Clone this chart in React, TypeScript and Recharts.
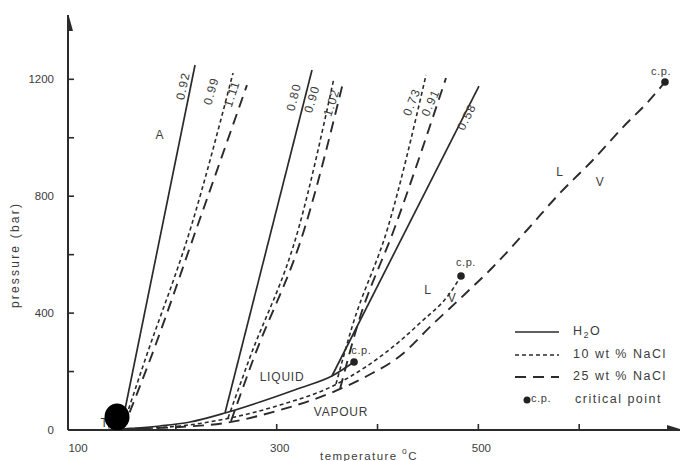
import {
  ComposedChart,
  Line,
  Scatter,
  XAxis,
  YAxis,
  Legend,
} from "recharts";

const FONT = '"Liberation Sans", Arial, Helvetica, sans-serif';
const INK = "#2b2b2b";
const TEXT = "#3c3c3c";

// axis ticks
const tempTicks = [100, 200, 300, 400, 500, 600];
const tempLabels = [100, 300, 500];
const pressTicks = [0, 200, 400, 600, 800, 1000, 1200];
const pressLabels = [0, 400, 800, 1200];

// liquid-vapour curves, T in °C, P in bar
const lvH2oT = [145.6, 184.2, 214.0, 248.7, 283.4, 323.1, 354.8, 376.7];
const lvH2oP = [3.4, 13.7, 27.4, 58.2, 95.8, 143.7, 184.8, 232.7];
const lv10T = [145.6, 204.1, 248.7, 303.3, 355.8, 389.6, 422.3, 442.1, 471.9, 482.8];
const lv10P = [3.4, 13.7, 37.6, 85.5, 150.6, 219.0, 304.5, 366.1, 468.8, 527.0];
const lv25T = [145.6, 204.1, 248.7, 303.3, 355.8, 389.6, 422.3, 455.0, 486.8, 514.5, 548.3, 581.0, 613.7, 647.4, 667.3, 685.1];
const lv25P = [3.4, 10.3, 24.0, 68.4, 130.0, 184.8, 253.2, 362.7, 465.3, 557.7, 684.3, 810.9, 923.9, 1050.5, 1118.9, 1190.8];

// isochores (density g/cm3)
const iso092T = [145.6, 219.0];
const iso092P = [3.4, 1249];
const iso099T = [146.5, 169.4, 215.0, 256.7];
const iso099P = [3.4, 239.5, 694.6, 1221.6];
const iso111T = [147.5, 174.3, 221.0, 270.5];
const iso111P = [3.4, 239.5, 694.6, 1180];

const iso080T = [248.7, 335.0];
const iso080P = [58.2, 1231.8];
const iso090T = [251.7, 272.5, 322.1, 356.8];
const iso090P = [41.0, 239.5, 694.6, 1204];
const iso102T = [254.7, 276.5, 328.1, 365.7];
const iso102P = [30.8, 239.5, 694.6, 1187];

const iso058T = [354.8, 500.6];
const iso058P = [184.8, 1177];
const iso073T = [358.8, 374.7, 410.4, 448.1];
const iso073P = [157.4, 352.4, 694.6, 1214.7];
const iso091T = [362.8, 379.6, 417.3, 467.9];
const iso091P = [140.3, 352.4, 694.6, 1204.4];

// critical points
const cpT = [376.7, 482.8, 685.1];
const cpP = [232.7, 527.0, 1190.8];

const zip = (t: number[], p: number[]) => t.map((v, i) => ({ t: v, p: p[i] }));

const STYLE: Record<string, { dash?: string; w: number }> = {
  h2o: { w: 1.7 },
  n10: { dash: "4 3", w: 1.6 },
  n25: { dash: "11 7", w: 1.9 },
};

const series = [
  { id: "lv-h2o", kind: "h2o", data: zip(lvH2oT, lvH2oP) },
  { id: "lv-10", kind: "n10", data: zip(lv10T, lv10P) },
  { id: "lv-25", kind: "n25", data: zip(lv25T, lv25P) },
  { id: "i092", kind: "h2o", data: zip(iso092T, iso092P) },
  { id: "i099", kind: "n10", data: zip(iso099T, iso099P) },
  { id: "i111", kind: "n25", data: zip(iso111T, iso111P) },
  { id: "i080", kind: "h2o", data: zip(iso080T, iso080P) },
  { id: "i090", kind: "n10", data: zip(iso090T, iso090P) },
  { id: "i102", kind: "n25", data: zip(iso102T, iso102P) },
  { id: "i058", kind: "h2o", data: zip(iso058T, iso058P) },
  { id: "i073", kind: "n10", data: zip(iso073T, iso073P) },
  { id: "i091", kind: "n25", data: zip(iso091T, iso091P) },
];

// text placed on the plot (data coords)
const notes = [
  { t: 207.0, p: 1177, text: "0.92", angle: -78 },
  { t: 235.0, p: 1160, text: "0.99", angle: -74 },
  { t: 255.5, p: 1150, text: "1.11", angle: -72 },
  { t: 317.0, p: 1139, text: "0.80", angle: -76 },
  { t: 335.0, p: 1132, text: "0.90", angle: -73 },
  { t: 354.5, p: 1120, text: "1.02", angle: -72 },
  { t: 434.0, p: 1122, text: "0.73", angle: -68 },
  { t: 452.5, p: 1120, text: "0.91", angle: -66 },
  { t: 488.5, p: 1071, text: "0.58", angle: -63 },
  { t: 184.2, p: 1009, text: "A", angle: 0 },
  { t: 305.3, p: 181, text: "LIQUID", angle: 0 },
  { t: 363.8, p: 62, text: "VAPOUR", angle: 0 },
  { t: 384.0, p: 274, text: "c.p.", angle: 0 },
  { t: 487.7, p: 575, text: "c.p.", angle: 0 },
  { t: 681.2, p: 1228, text: "c.p.", angle: 0 },
  { t: 450.1, p: 479, text: "L", angle: 0 },
  { t: 473.9, p: 452, text: "V", angle: 0 },
  { t: 581.0, p: 883, text: "L", angle: 0 },
  { t: 620.7, p: 849, text: "V", angle: 0 },
  { t: 132.0, p: 24, text: "TH", angle: 0 },
];

const blot = [{ t: 141.6, p: 44.5 }];
const yArrow = [{ t: 93, p: 1420 }];
const xArrow = [{ t: 700, p: 0 }];

function TempTick({ x, y, payload }: any) {
  const v = payload.value;
  return (
    <g>
      {v !== 100 && (
        <line x1={x} y1={y} x2={x} y2={y - 6} stroke={INK} strokeWidth={1.6} />
      )}
      {tempLabels.includes(v) && (
        <text x={x + 3} y={y + 22} textAnchor="middle" fontSize={11.5} fill={TEXT} fontFamily={FONT}>
          {v}
        </text>
      )}
    </g>
  );
}

function PressTick({ x, y, payload }: any) {
  const v = payload.value;
  return (
    <g>
      {v !== 0 && (
        <line x1={x} y1={y} x2={x + 6} y2={y} stroke={INK} strokeWidth={1.6} />
      )}
      {pressLabels.includes(v) && (
        <text x={x - 14} y={y + 4} textAnchor="end" fontSize={11.5} fill={TEXT} fontFamily={FONT}>
          {v}
        </text>
      )}
    </g>
  );
}

function Note(props: any) {
  const { cx, cy, payload } = props;
  if (payload.text === "TH") {
    return (
      <text x={cx} y={cy + 4} textAnchor="middle" fontSize={12} fill={TEXT} fontFamily={FONT}>
        T<tspan fontSize={9} dy={3}>H</tspan>
      </text>
    );
  }
  const rot = payload.angle ? `rotate(${payload.angle} ${cx} ${cy})` : undefined;
  const cp = payload.text === "c.p.";
  return (
    <text
      x={cx}
      y={cy}
      transform={rot}
      textAnchor="middle"
      dominantBaseline="central"
      fontSize={cp ? 11 : 12}
      letterSpacing={payload.angle ? 1.2 : cp ? 0.6 : 0.8}
      fill={TEXT}
      fontFamily={FONT}
    >
      {payload.text}
    </text>
  );
}

function KeyBox() {
  const rows = [
    { dash: STYLE.h2o, label: <>H<span style={{ fontSize: 9, verticalAlign: -3 }}>2</span>O</> },
    { dash: STYLE.n10, label: "10 wt % NaCl" },
    { dash: STYLE.n25, label: "25 wt % NaCl" },
  ];
  return (
    <div style={{ fontFamily: FONT, fontSize: 12.5, color: TEXT, letterSpacing: 1.5 }}>
      {rows.map((r, i) => (
        <div key={i} style={{ position: "relative", height: 22.5 }}>
          <svg width={46} height={10} style={{ position: "absolute", left: 3, top: 6 }}>
            <line x1={0} y1={5} x2={44} y2={5} stroke={INK} strokeWidth={r.dash.w} strokeDasharray={r.dash.dash} />
          </svg>
          <span style={{ position: "absolute", left: 61, top: 3 }}>{r.label}</span>
        </div>
      ))}
      <div style={{ position: "relative", height: 22.5 }}>
        <svg width={10} height={10} style={{ position: "absolute", left: 11, top: 6 }}>
          <circle cx={4} cy={5} r={3.5} fill="#222" />
        </svg>
        <span style={{ position: "absolute", left: 19, top: 3, fontSize: 11, letterSpacing: 0.6 }}>c.p.</span>
        <span style={{ position: "absolute", left: 63, top: 3 }}>critical point</span>
      </div>
    </div>
  );
}

const XLabel = ({ viewBox }: any) => (
  <text
    x={viewBox.x + viewBox.width / 2 - 5}
    y={viewBox.y + 30}
    textAnchor="middle"
    fontSize={11.5}
    letterSpacing={1.4}
    fill={TEXT}
    fontFamily={FONT}
  >
    temperature <tspan fontSize={8.5} dy={-6}>o</tspan>
    <tspan dy={6}>C</tspan>
  </text>
);

const YLabel = ({ viewBox }: any) => (
  <text
    x={15}
    y={viewBox.y + 240}
    transform={`rotate(-90 15 ${viewBox.y + 240})`}
    textAnchor="middle"
    dominantBaseline="central"
    fontSize={12}
    letterSpacing={2.2}
    fill={TEXT}
    fontFamily={FONT}
  >
    pressure (bar)
  </text>
);

export default function App() {
  return (
    <div style={{ position: "absolute", left: 0, top: 0, width: 683, height: 461, background: "#fff", overflow: "hidden" }}>
      <ComposedChart width={683} height={461} margin={{ top: 15, right: 3, bottom: 1, left: 8 }}>
        <XAxis
          type="number"
          dataKey="t"
          domain={[93, 700]}
          allowDataOverflow
          ticks={tempTicks}
          tickSize={0}
          tickMargin={0}
          tickLine={false}
          tick={<TempTick />}
          stroke={INK}
          axisLine={{ stroke: INK, strokeWidth: 2 }}
          height={30}
          label={{ content: XLabel }}
        />
        <YAxis
          type="number"
          dataKey="p"
          domain={[0, 1420]}
          allowDataOverflow
          ticks={pressTicks}
          tickSize={0}
          tickMargin={0}
          tickLine={false}
          tick={<PressTick />}
          stroke={INK}
          axisLine={{ stroke: INK, strokeWidth: 2 }}
          width={60}
          label={{ content: YLabel }}
        />
        <Legend
          layout="vertical"
          align="center"
          verticalAlign="middle"
          content={<KeyBox />}
          wrapperStyle={{ left: 512, top: 321, width: 170, height: 92 }}
        />
        {series.map((s) => (
          <Line
            key={s.id}
            data={s.data}
            dataKey="p"
            type="monotone"
            stroke={INK}
            strokeWidth={STYLE[s.kind].w}
            strokeDasharray={STYLE[s.kind].dash}
            dot={false}
            activeDot={false}
            legendType="none"
            isAnimationActive={false}
          />
        ))}
        <Scatter
          data={zip(cpT, cpP)}
          dataKey="p"
          fill="#222"
          shape={(p: any) => <circle cx={p.cx} cy={p.cy} r={3.8} fill="#222" />}
          legendType="none"
          isAnimationActive={false}
        />
        <Scatter
          data={notes}
          dataKey="p"
          shape={Note}
          legendType="none"
          isAnimationActive={false}
        />
        <Scatter
          data={blot}
          dataKey="p"
          shape={(p: any) => <ellipse cx={p.cx} cy={p.cy} rx={12.5} ry={13.5} fill="#000" />}
          legendType="none"
          isAnimationActive={false}
        />
        <Scatter
          data={yArrow}
          dataKey="p"
          shape={(p: any) => (
            <path d={`M${p.cx},${p.cy - 2} L${p.cx - 5},${p.cy + 16} L${p.cx + 5},${p.cy + 16} Z`} fill={INK} />
          )}
          legendType="none"
          isAnimationActive={false}
        />
        <Scatter
          data={xArrow}
          dataKey="p"
          shape={(p: any) => (
            <path d={`M${p.cx + 3},${p.cy} L${p.cx - 13},${p.cy - 5} L${p.cx - 13},${p.cy + 5} Z`} fill={INK} />
          )}
          legendType="none"
          isAnimationActive={false}
        />
      </ComposedChart>
    </div>
  );
}
